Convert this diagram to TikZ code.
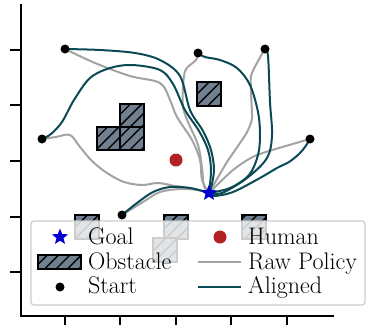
\documentclass[tikz,border=0pt]{standalone}
\usetikzlibrary{shapes.geometric,patterns.meta}
\definecolor{aligned}{HTML}{0B4A55}
\definecolor{rawc}{HTML}{A3A3A3}
\definecolor{obst}{HTML}{708090}
\definecolor{humanc}{HTML}{B22222}
\definecolor{goalc}{HTML}{0000D0}
\tikzset{
  obstacle/.style={draw=black,line width=1.6pt,fill=obst,postaction={pattern={Lines[angle=45,distance=8pt,line width=1.4pt]}}},
  rawpath/.style={draw=rawc,line width=2pt,line cap=round,line join=round},
  alpath/.style={draw=aligned,line width=2pt,line cap=round,line join=round},
  startdot/.style={circle,fill=black,inner sep=0pt,minimum size=9pt},
  goalstar/.style={star,star points=5,star point ratio=2.3,fill=goalc,inner sep=0pt,minimum size=17pt},
  humandot/.style={circle,fill=humanc,inner sep=0pt,minimum size=13pt},
  legtext/.style={anchor=base west,inner sep=0pt,font=\fontsize{24}{28}\selectfont},
  spine/.style={line width=1.4pt,line cap=rect},
}
\begin{document}
\begin{tikzpicture}[x=1pt,y=-1pt]
\useasboundingbox (0,0) rectangle (367,325);
% axes
\coordinate (o) at (21,316);
\coordinate (ytop) at (21,5);
\coordinate (xend) at (333,316);
\draw[spine] (ytop) -- (o) -- (xend);
\foreach \yy in {50,105,161,217,272} \draw[line width=1.2pt] (21,\yy) -- (10,\yy);
\foreach \xx in {65,120,176,231,287} \draw[line width=1.2pt] (\xx,316) -- (\xx,325);
% obstacles
\path[obstacle] (197,82) rectangle (221,106);
\path[obstacle] (120,104) rectangle (144,127);
\path[obstacle] (97,127) rectangle (120,150);
\path[obstacle] (120,127) rectangle (144,150);
\path[obstacle] (75,215) rectangle (99,239);
\path[obstacle] (164,215) rectangle (188,239);
\path[obstacle] (153,238) rectangle (177,262);
\path[obstacle] (242,215) rectangle (266,239);
% human
\node[humandot] (human) at (176,160) {};
% starts and goal
\coordinate (goal) at (209,193);
\coordinate (sA) at (65,49);
\coordinate (sL) at (42,139);
\coordinate (sB) at (122,215);
\coordinate (sM) at (198,53);
\coordinate (sR) at (265,49);
\coordinate (sE) at (310,139);
% raw policy
\draw[rawpath] plot[smooth,tension=0.55] coordinates {(sA) (95,63) (130,76) (160,83) (170,100) (177,117) (192,140) (200,160) (202,180) (goal)};
\draw[rawpath] plot[smooth,tension=0.55] coordinates {(sL) (56,137) (70,135) (80,147) (92,161) (107,173) (124,182) (142,185) (158,183) (175,186) (195,189) (goal)};
\draw[rawpath] plot[smooth,tension=0.55] coordinates {(sB) (143,202) (160,192) (180,189) (198,190) (goal)};
\draw[rawpath] plot[smooth,tension=0.55] coordinates {(sM) (196,60) (190,65) (185,71) (183,87) (183,107) (188,122) (198,145) (202,168) (204,186) (goal)};
\draw[rawpath] plot[smooth,tension=0.3] coordinates {(sR) (251,76) (252,118) (246,134) (227,162) (goal)};
\draw[rawpath] plot[smooth,tension=0.4] coordinates {(sE) (257,155) (233,170) (goal)};
% aligned
\draw[alpath] plot[smooth,tension=0.55] coordinates {(sA) (100,50) (135,53) (160,60) (180,76) (190,110) (203,131) (211,150) (214,170) (211,188) (goal)};
\draw[alpath] plot[smooth,tension=0.55] coordinates {(sL) (51,134) (62,122) (74,100) (90,78) (110,68) (132,65) (160,70) (173,84) (185,110) (199,131) (208,150) (211,170) (goal)};
\draw[alpath] plot[smooth,tension=0.55] coordinates {(sB) (137,203) (153,192) (170,187) (190,188) (goal)};
\draw[alpath] plot[smooth,tension=0.55] coordinates {(sM) (205,57) (220,60) (237,68) (250,85) (258,112) (260,135) (258,155) (249,175) (230,188) (goal)};
\draw[alpath] plot[smooth,tension=0.55] coordinates {(sR) (268,56) (270,102) (272,135) (267,158) (247,178) (222,193) (goal)};
\draw[alpath] plot[smooth,tension=0.55] coordinates {(sE) (305,147) (299,154) (289,162) (277,168) (260,178) (233,192) (214,196) (goal)};
% start dots & goal
\foreach \s in {sA,sL,sB,sM,sR,sE} \node[startdot] (\s dot) at (\s) {};
\node[goalstar] (goalmark) at (goal) {};
% legend
\draw[draw=black!20,line width=1.2pt,fill=white,fill opacity=0.8,rounded corners=3pt] (31,221) rectangle (365,305);
\node[goalstar] (lgoal) at (60,237) {};
\node[legtext] (tgoal) at (88,244) {Goal};
\path[obstacle] (38,255) rectangle (81,269);
\node[legtext] (tobst) at (88,269) {Obstacle};
\node[startdot] (lstart) at (60,287) {};
\node[legtext] (tstart) at (88,293) {Start};
\node[humandot] (lhuman) at (220,237) {};
\node[legtext] (thuman) at (248,244) {Human};
\coordinate (lr1) at (198,262); \coordinate (lr2) at (241,262);
\draw[rawpath,line cap=butt] (lr1) -- (lr2);
\node[legtext] (traw) at (248,269) {Raw Policy};
\coordinate (la1) at (198,287); \coordinate (la2) at (241,287);
\draw[alpath,line cap=butt] (la1) -- (la2);
\node[legtext] (tal) at (248,293) {Aligned};
\end{tikzpicture}
\end{document}
